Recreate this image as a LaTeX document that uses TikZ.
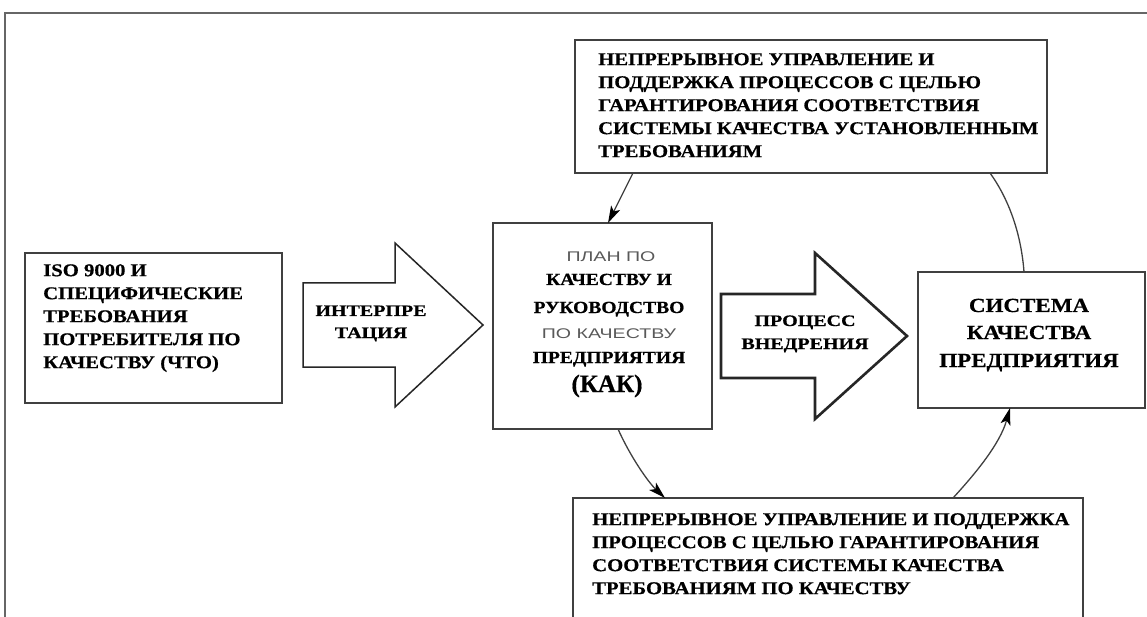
\documentclass[tikz,border=0pt]{standalone}
\usepackage{fontspec}
\usetikzlibrary{arrows.meta}
\newfontfamily\wideserif[FakeStretch=1.15,FakeBold=0.6]{Liberation Serif}
\newfontfamily\widerserif[FakeStretch=1.25,FakeBold=0.6]{Liberation Serif}
\newfontfamily\widesans[FakeStretch=1.4]{Liberation Sans}
\newfontfamily\kakfont[FakeBold=0.6]{Liberation Serif}
\begin{document}
\begin{tikzpicture}[x=1pt,y=-1pt,
  box/.style={draw=black!75, line width=1.5pt, rectangle, inner sep=0pt, outer sep=0pt, anchor=north west},
  btext/.style={inner sep=0pt, anchor=north west, align=left, text=black,
    font=\wideserif\bfseries\fontsize{18}{23}\selectfont},
  ctext/.style={inner sep=0pt, anchor=base, text=black,
    font=\wideserif\bfseries\fontsize{17}{20}\selectfont},
  stext/.style={inner sep=0pt, anchor=base, text=black!65,
    font=\widesans\fontsize{14}{16}\selectfont},
  atext/.style={inner sep=0pt, anchor=base, text=black,
    font=\widerserif\bfseries\fontsize{16}{20}\selectfont},
  stext2/.style={inner sep=0pt, anchor=base, text=black,
    font=\wideserif\bfseries\fontsize{20}{24}\selectfont},
  barrow/.style={draw=black!85, line width=1.5pt, line join=miter, fill=white},
  conn/.style={draw=black!75, line width=1.3pt},
  tip/.style={-{Stealth[length=17pt,width=10pt,inset=4pt,color=black,fill=black]}}
]
\useasboundingbox (0,0) rectangle (1147,617);
\clip (0,0) rectangle (1147,617);
\fill[white] (0,0) rectangle (1147,617);
\draw[black!60, line width=2pt] (5,700) -- (5,13) -- (1200,13);

% boxes
\node[box, minimum width=257pt, minimum height=150pt] (what) at (25,253) {};
\node[box, minimum width=219pt, minimum height=206pt] (how) at (493,223) {};
\node[box, minimum width=227pt, minimum height=136pt] (sys) at (918,272) {};
\node[box, minimum width=472pt, minimum height=133pt] (topb) at (575,40) {};
\node[box, minimum width=510pt, minimum height=140pt] (botb) at (573,498) {};

% block arrows
\draw[barrow] (303,283) -- (395,283) -- (395,243) -- (483,325) -- (395,407) -- (395,367) -- (303,367) -- cycle;
\draw[barrow, line width=2.6pt] (721,294) -- (815,294) -- (815,253) -- (907,336) -- (815,419) -- (815,378) -- (721,378) -- cycle;

% texts
\node[btext] (whattxt) at (43,264) {ISO 9000 И\\СПЕЦИФИЧЕСКИЕ\\ТРЕБОВАНИЯ\\ПОТРЕБИТЕЛЯ ПО\\КАЧЕСТВУ (ЧТО)};
\node[btext] (toptxt) at (598,53) {НЕПРЕРЫВНОЕ УПРАВЛЕНИЕ И\\ПОДДЕРЖКА ПРОЦЕССОВ С ЦЕЛЬЮ\\ГАРАНТИРОВАНИЯ СООТВЕТСТВИЯ\\СИСТЕМЫ КАЧЕСТВА УСТАНОВЛЕННЫМ\\ТРЕБОВАНИЯМ};
\node[btext] (bottxt) at (592,513) {НЕПРЕРЫВНОЕ УПРАВЛЕНИЕ И ПОДДЕРЖКА\\ПРОЦЕССОВ С ЦЕЛЬЮ ГАРАНТИРОВАНИЯ\\СООТВЕТСТВИЯ СИСТЕМЫ КАЧЕСТВА\\ТРЕБОВАНИЯМ ПО КАЧЕСТВУ};

\node[stext] (h1) at (611,262) {ПЛАН ПО};
\node[ctext] (h2) at (609,285) {КАЧЕСТВУ И};
\node[ctext] (h3) at (609,313) {РУКОВОДСТВО};
\node[stext] (h4) at (609,338) {ПО КАЧЕСТВУ};
\node[ctext] (h5) at (609,363) {ПРЕДПРИЯТИЯ};
\node[inner sep=0pt, anchor=base, font=\kakfont\bfseries\fontsize{25}{28}\selectfont] (h6) at (607,392) {(КАК)};

\node[stext2] (s1) at (1029,312) {СИСТЕМА};
\node[stext2] (s2) at (1029,339) {КАЧЕСТВА};
\node[stext2] (s3) at (1029,367) {ПРЕДПРИЯТИЯ};

\node[atext] (a1) at (371,316) {ИНТЕРПРЕ};
\node[atext] (a2) at (371,338) {ТАЦИЯ};
\node[atext] (b1) at (805,326) {ПРОЦЕСС};
\node[atext] (b2) at (805,349) {ВНЕДРЕНИЯ};

% connectors
\draw[conn, tip] ([xshift=58pt]topb.south west) -- ([xshift=115pt]how.north west);
\draw[conn, tip] ([xshift=125pt]how.south west) .. controls (630,456) and (648,482) .. ([xshift=92pt]botb.north west);
\draw[conn, tip] ([xshift=380pt]botb.north west) .. controls (975,474) and (1000,444) .. ([xshift=92pt]sys.south west);
\draw[conn] ([xshift=106pt]sys.north west) .. controls (1021,232) and (1008,198) .. ([xshift=415pt]topb.south west);
\end{tikzpicture}
\end{document}
